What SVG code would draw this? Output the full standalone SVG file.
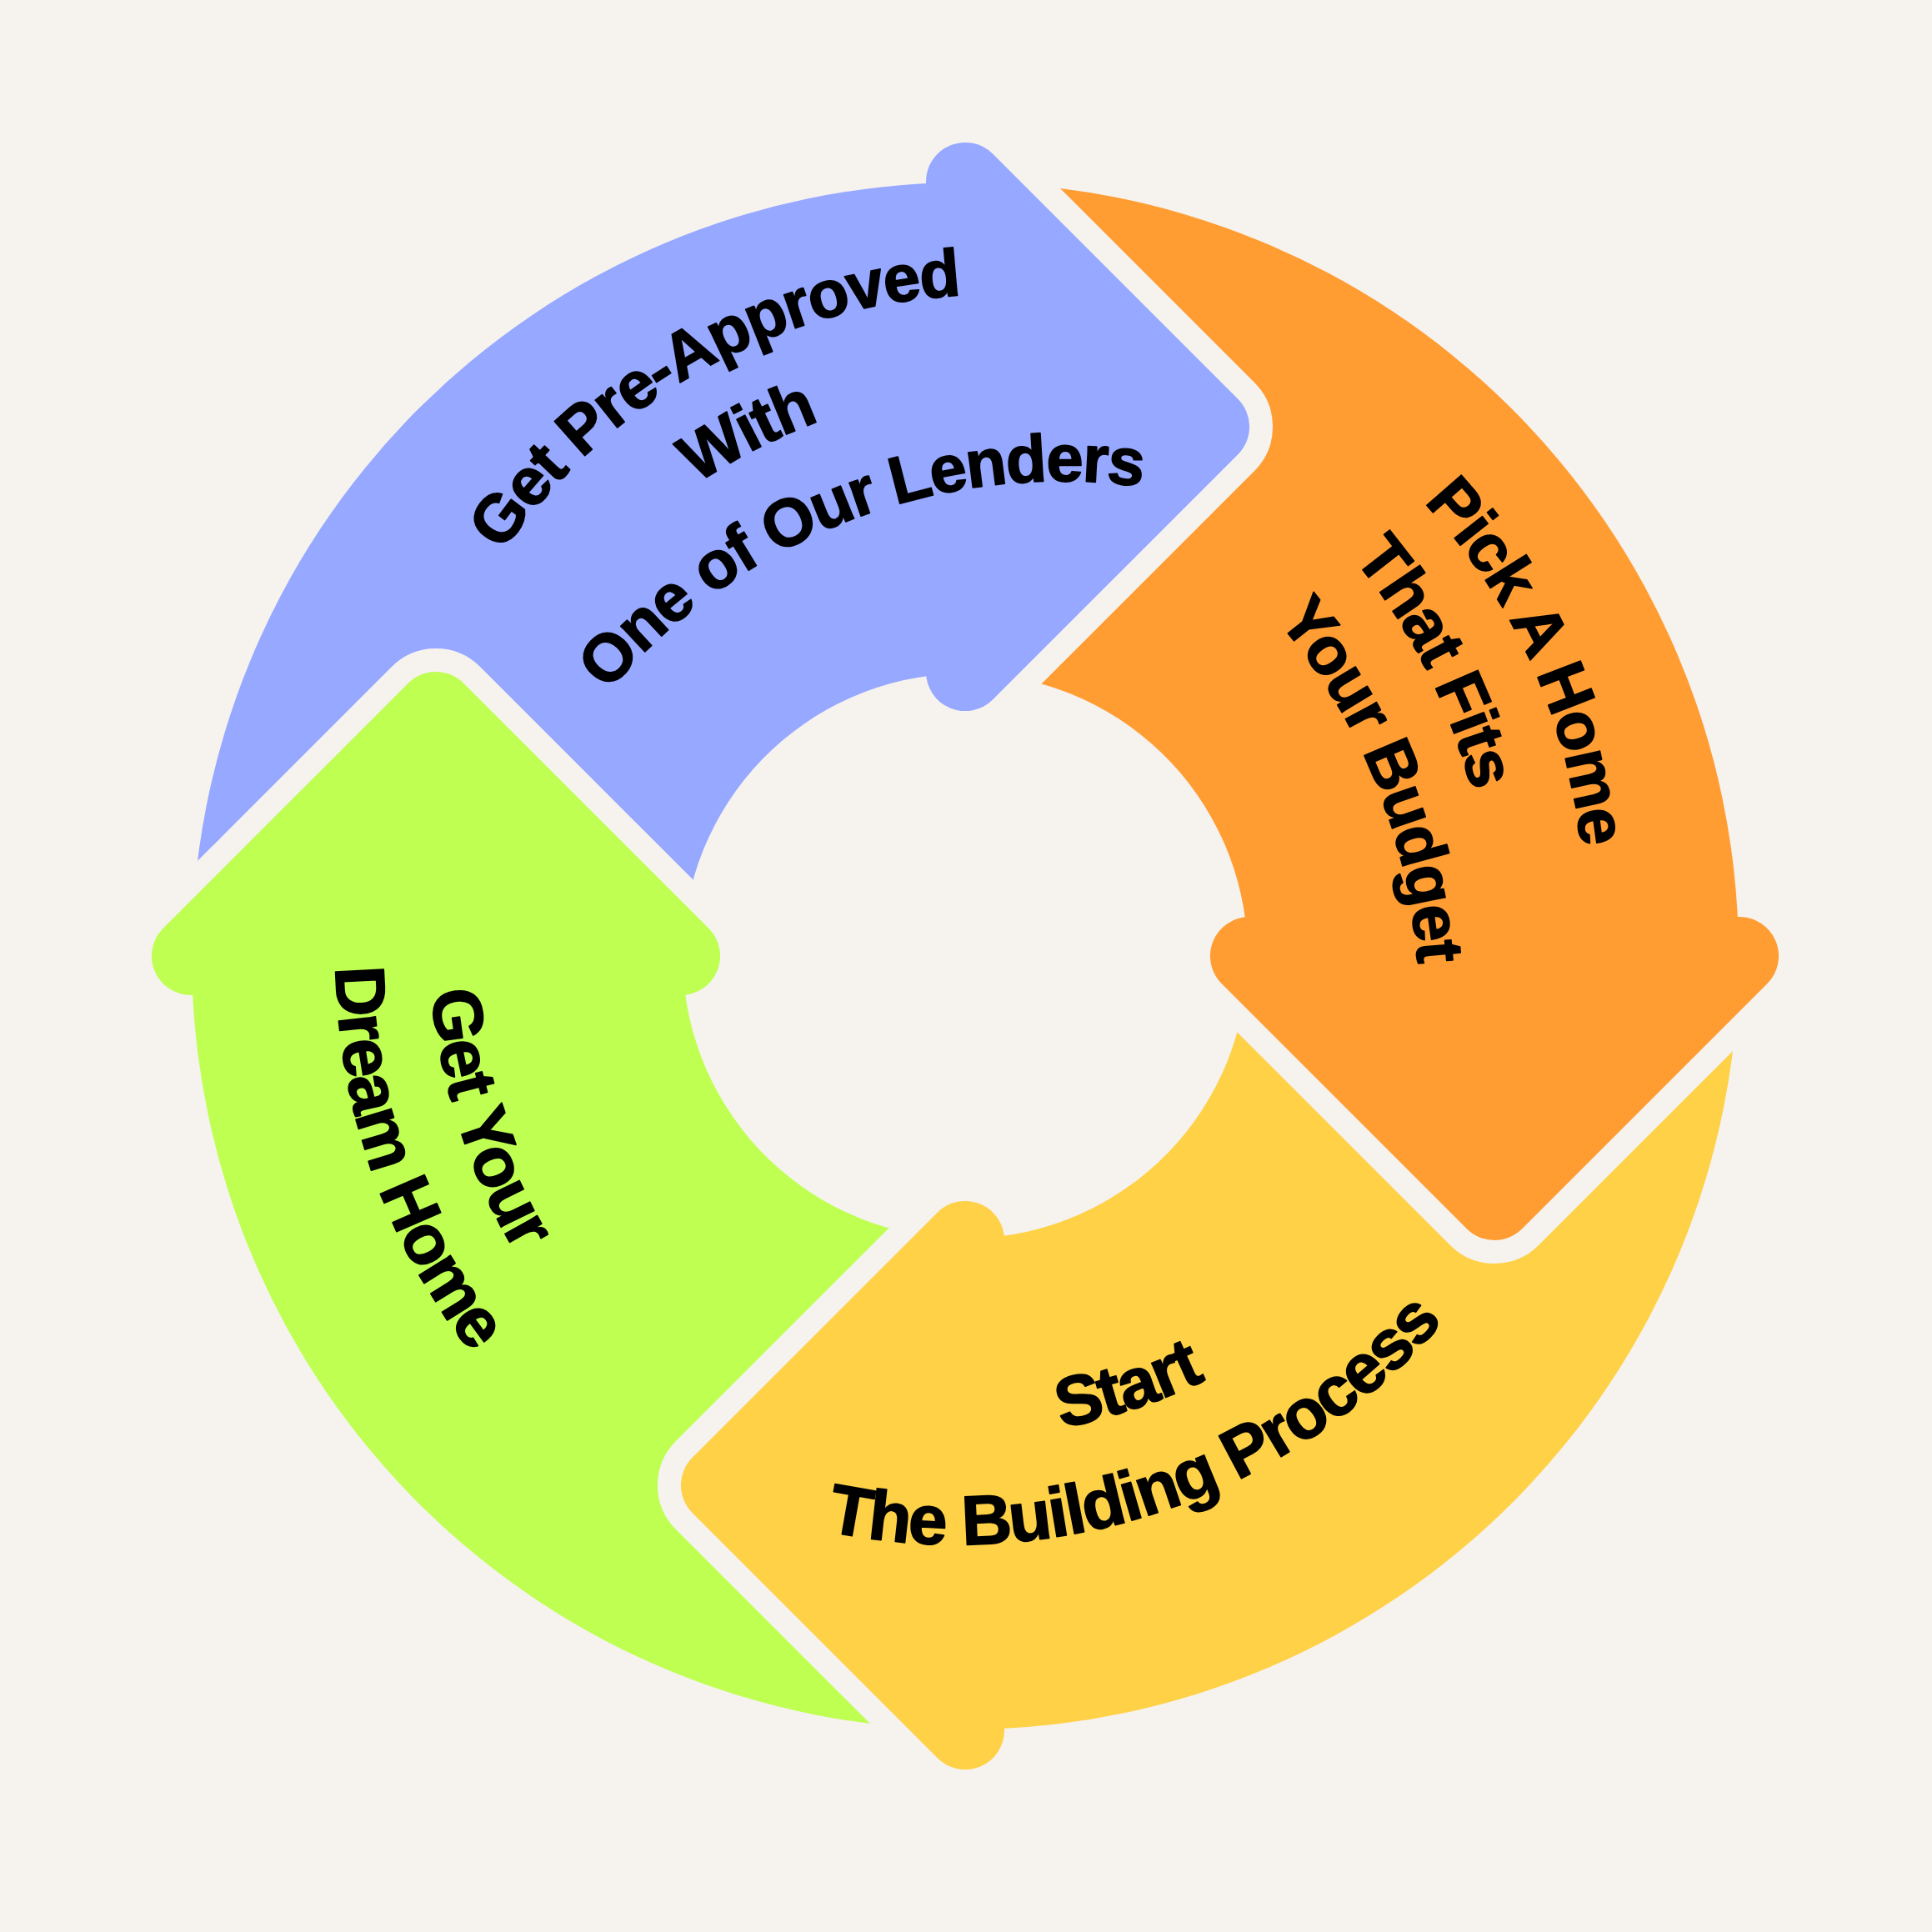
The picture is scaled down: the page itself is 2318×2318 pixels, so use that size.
<svg xmlns="http://www.w3.org/2000/svg" xmlns:xlink="http://www.w3.org/1999/xlink" width="2318" height="2318" viewBox="0 0 2318 2318">
  <style>
    .lbl { font-family: "Liberation Sans", Arial, sans-serif; font-weight: bold; fill: #000; stroke: #000; stroke-width: 1.6px; stroke-linejoin: round; text-anchor: middle; letter-spacing: -2px; }
    .s80 { font-size: 80px; }
    .s84 { font-size: 84px; }
  </style>
  <defs>
    <path id="head" d="M -47,-341 L -47,-929 A 47 47 0 0 1 33.25,-962.25 L 327.27,-668.23 A 47 47 0 0 1 327.27,-601.77 L 33.25,-307.75 A 47 47 0 0 1 -47,-341 Z"/>
    <path id="body" d="M -928,0 A 928 928 0 0 1 -10,-927.95 L -10,-338.85 A 339 339 0 0 0 -339,0 Z"/>
    <mask id="tailmask" maskUnits="userSpaceOnUse" x="-1250" y="-1250" width="2500" height="2500">
      <rect x="-1250" y="-1250" width="2500" height="2500" fill="#fff"/>
      <use xlink:href="#head" href="#head" transform="rotate(-90)" fill="#000" stroke="#000" stroke-width="56" stroke-linejoin="round"/>
    </mask>
    <path id="arcA" d="M -670.0,-243.9 A 713 713 0 0 1 670.0,-243.9"/>
    <path id="arcS" d="M -721.7,262.7 A 768 768 0 0 0 721.7,262.7"/>
  </defs>

  <rect x="0" y="0" width="2318" height="2318" fill="#F6F2EE"/>

  <g id="node-preapproved">
    <g transform="translate(1158,1147)" fill="#96A8FF">
      <use xlink:href="#body" href="#body" mask="url(#tailmask)"/>
      <use xlink:href="#head" href="#head"/>
    </g>
    <g transform="translate(1190.3,1066.5) rotate(-29.3)"><text class="lbl s80" letter-spacing="-1.5"><textPath xlink:href="#arcA" href="#arcA" startOffset="50%">Get Pre-Approved</textPath></text></g>
    <g transform="translate(1232.7,1173.2) rotate(-27.2)"><text class="lbl s80"><textPath xlink:href="#arcA" href="#arcA" startOffset="50%">With</textPath></text></g>
    <g transform="translate(1274.2,1290.3) rotate(-21.1)"><text class="lbl s80"><textPath xlink:href="#arcA" href="#arcA" startOffset="50%">One of Our Lenders</textPath></text></g>
  </g>

  <g id="node-pickhome">
    <g transform="translate(1158,1147) rotate(90)" fill="#FF9D33">
      <use xlink:href="#body" href="#body" mask="url(#tailmask)"/>
      <use xlink:href="#head" href="#head"/>
    </g>
    <g transform="translate(1187.6,1090) rotate(65.4)"><text class="lbl s80"><textPath xlink:href="#arcA" href="#arcA" startOffset="50%">Pick A Home</textPath></text></g>
    <g transform="translate(1075.2,1125.3) rotate(62.9)"><text class="lbl s80"><textPath xlink:href="#arcA" href="#arcA" startOffset="50%">That Fits</textPath></text></g>
    <g transform="translate(989.6,1206.5) rotate(67.7)"><text class="lbl s80"><textPath xlink:href="#arcA" href="#arcA" startOffset="50%">Your Budget</textPath></text></g>
  </g>

  <g id="node-building">
    <g transform="translate(1158,1147) rotate(180)" fill="#FFD147">
      <use xlink:href="#body" href="#body" mask="url(#tailmask)"/>
      <use xlink:href="#head" href="#head"/>
    </g>
    <g transform="translate(1118.7,961.2) rotate(-18.4)"><text class="lbl s84" letter-spacing="0.5"><textPath xlink:href="#arcS" href="#arcS" startOffset="50%">Start</textPath></text></g>
    <g transform="translate(1148.8,1085.1) rotate(-18.7)"><text class="lbl s84" letter-spacing="-1.5"><textPath xlink:href="#arcS" href="#arcS" startOffset="50%">The Building Process</textPath></text></g>
  </g>

  <g id="node-dreamhome">
    <g transform="translate(1158,1147) rotate(270)" fill="#BEFF52">
      <use xlink:href="#body" href="#body" mask="url(#tailmask)"/>
      <use xlink:href="#head" href="#head"/>
    </g>
    <g transform="translate(1281.5,1115.2) rotate(72.1)"><text class="lbl s84"><textPath xlink:href="#arcS" href="#arcS" startOffset="50%">Get Your</textPath></text></g>
    <g transform="translate(1170.8,1149.6) rotate(70.6)"><text class="lbl s84" letter-spacing="0"><textPath xlink:href="#arcS" href="#arcS" startOffset="50%">Dream Home</textPath></text></g>
  </g>

  <g id="connectors"></g>
</svg>
